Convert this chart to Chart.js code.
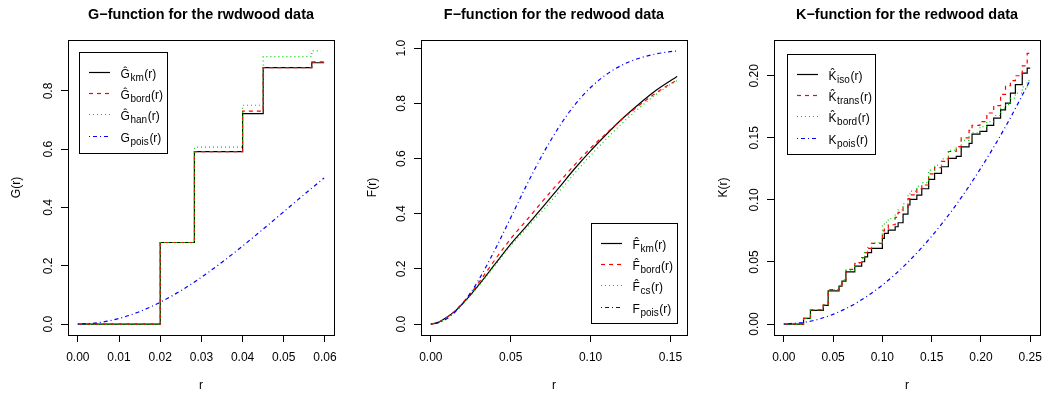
<!DOCTYPE html>
<html><head><meta charset="utf-8">
<script src="https://cdn.jsdelivr.net/npm/chart.js@4.4.0/dist/chart.umd.min.js"></script>
<style>
body{margin:0;background:#fff;width:1042px;height:394px;overflow:hidden;position:relative}
canvas{position:absolute;top:0}
</style></head><body>
<canvas id="c1" width="347" height="394" style="left:0px"></canvas>
<canvas id="c2" width="347" height="394" style="left:353px"></canvas>
<canvas id="c3" width="336" height="394" style="left:706px"></canvas>
<script>
// ---------- G-function data ----------
const rG      = [0, 0.0200, 0.0283, 0.0400, 0.0450, 0.0568, 0.0598];
const gKm     = [0, 0.280, 0.592, 0.722, 0.880, 0.897, 0.897];
const gBord   = [0, 0.280, 0.592, 0.731, 0.880, 0.900, 0.900];
const rGhan   = [0, 0.0200, 0.0283, 0.0400, 0.0450, 0.0568, 0.0590];
const gHan    = [0, 0.280, 0.607, 0.751, 0.918, 0.9375, 0.9375];
const rGpois  = [0, 0.005, 0.010, 0.015, 0.020, 0.025, 0.030, 0.035, 0.040, 0.045, 0.050, 0.055, 0.0598];
const gPois   = [0, 0.0049, 0.0193, 0.0429, 0.0750, 0.1146, 0.1608, 0.2123, 0.2678, 0.3260, 0.3856, 0.4453, 0.5017];
const gTicksX = [0, 0.01, 0.02, 0.03, 0.04, 0.05, 0.06];
const gLabelsX = ["0.00","0.01","0.02","0.03","0.04","0.05","0.06"];
const gTicksY = [0, 0.2, 0.4, 0.6, 0.8];
const gLabelsY = ["0.0","0.2","0.4","0.6","0.8"];

// ---------- F-function data ----------
const rF      = [0, 0.005, 0.010, 0.015, 0.020, 0.025, 0.030, 0.040, 0.050, 0.060, 0.070, 0.080, 0.090, 0.100, 0.110, 0.120, 0.130, 0.140, 0.150, 0.1542];
const fKm     = [0, 0.007, 0.025, 0.046, 0.075, 0.107, 0.142, 0.216, 0.290, 0.356, 0.424, 0.493, 0.563, 0.628, 0.688, 0.745, 0.796, 0.843, 0.882, 0.897];
const fBord   = [0, 0.007, 0.025, 0.047, 0.077, 0.112, 0.150, 0.232, 0.309, 0.377, 0.446, 0.512, 0.577, 0.638, 0.692, 0.744, 0.791, 0.834, 0.871, 0.885];
const fCs     = [0, 0.007, 0.024, 0.045, 0.073, 0.104, 0.139, 0.211, 0.284, 0.348, 0.412, 0.478, 0.547, 0.611, 0.672, 0.729, 0.781, 0.828, 0.868, 0.882];
const fPois   = [0, 0.0049, 0.0193, 0.0429, 0.0750, 0.1146, 0.1608, 0.2678, 0.3856, 0.5041, 0.6150, 0.7125, 0.7936, 0.8575, 0.9053, 0.9395, 0.9628, 0.9780, 0.9875, 0.9901];
const fTicksX = [0, 0.05, 0.10, 0.15];
const fLabelsX = ["0.00","0.05","0.10","0.15"];
const fTicksY = [0, 0.2, 0.4, 0.6, 0.8, 1.0];
const fLabelsY = ["0.0","0.2","0.4","0.6","0.8","1.0"];

// ---------- K-function data ----------
const rK      = [0, 0.020, 0.027, 0.040, 0.045, 0.056, 0.059, 0.063, 0.072, 0.079, 0.082, 0.085, 0.089, 0.100, 0.102, 0.106, 0.113, 0.116, 0.121, 0.126, 0.128, 0.135, 0.140, 0.147, 0.153, 0.160, 0.167, 0.175, 0.180, 0.188, 0.191, 0.199, 0.206, 0.213, 0.220, 0.225, 0.230, 0.235, 0.242, 0.247, 0.250];
const kIso    = [0, 0.0046, 0.0110, 0.0150, 0.0268, 0.0306, 0.0346, 0.0421, 0.0467, 0.0502, 0.0542, 0.0575, 0.0610, 0.0690, 0.0730, 0.0757, 0.0784, 0.0816, 0.0886, 0.0959, 0.1004, 0.1039, 0.1090, 0.1165, 0.1214, 0.1267, 0.1335, 0.1350, 0.1428, 0.1455, 0.1530, 0.1552, 0.1600, 0.1659, 0.1726, 0.1780, 0.1860, 0.1928, 0.2022, 0.2062, 0.2062];
const kTrans  = [0, 0.0046, 0.0115, 0.0155, 0.0278, 0.0315, 0.0355, 0.0440, 0.0495, 0.0535, 0.0575, 0.0610, 0.0650, 0.0750, 0.0770, 0.0800, 0.0860, 0.0900, 0.0940, 0.1010, 0.1040, 0.1090, 0.1120, 0.1210, 0.1260, 0.1310, 0.1390, 0.1430, 0.1500, 0.1560, 0.1600, 0.1630, 0.1700, 0.1760, 0.1850, 0.1920, 0.1960, 0.2000, 0.2080, 0.2180, 0.2200];
const kBord   = [0, 0.0046, 0.0115, 0.0155, 0.0275, 0.0312, 0.0352, 0.0435, 0.0490, 0.0530, 0.0575, 0.0615, 0.0655, 0.0800, 0.0820, 0.0850, 0.0890, 0.0920, 0.0970, 0.1040, 0.1070, 0.1110, 0.1140, 0.1240, 0.1280, 0.1330, 0.1400, 0.1420, 0.1480, 0.1520, 0.1540, 0.1590, 0.1630, 0.1680, 0.1740, 0.1770, 0.1820, 0.1860, 0.1910, 0.1960, 0.1960];
const rKpois  = [0, 0.025, 0.050, 0.075, 0.100, 0.125, 0.150, 0.175, 0.200, 0.225, 0.250];
const kPois   = [0, 0.00196, 0.00785, 0.01767, 0.0314, 0.0491, 0.0707, 0.0962, 0.1257, 0.1590, 0.1963];
const kTicksX = [0, 0.05, 0.10, 0.15, 0.20, 0.25];
const kLabelsX = ["0.00","0.05","0.10","0.15","0.20","0.25"];
const kTicksY = [0, 0.05, 0.10, 0.15, 0.20];
const kLabelsY = ["0.00","0.05","0.10","0.15","0.20"];

// ---------- styling ----------
const FONT = "'Liberation Sans', Arial, Helvetica, sans-serif";
const COL = { black: '#000000', red: '#FF0000', green: '#00CD00', blue: '#0000FF' };
const DASH = { solid: [], dashed: [4, 4], dotted: [1, 3], dotdash: [1, 3, 4, 3] };
const STYLES = [
  { color: COL.black, dash: DASH.solid },
  { color: COL.red, dash: DASH.dashed },
  { color: COL.green, dash: DASH.dotted },
  { color: COL.blue, dash: DASH.dotdash }
];
const LW = 1.2;

function pts(xs, ys) { return xs.map((x, i) => ({ x: x, y: ys[i] })); }
function ds(label, xs, ys, k, stepped) {
  return {
    label: label, data: pts(xs, ys), borderColor: STYLES[k].color, borderDash: STYLES[k].dash,
    borderWidth: LW, pointRadius: 0, fill: false, tension: 0, order: 4 - k,
    stepped: stepped ? 'before' : false,
    cubicInterpolationMode: stepped ? 'default' : 'monotone'
  };
}

function decor(spec) {
  return {
    id: 'rdecor',
    afterDraw(chart) {
      const ctx = chart.ctx, a = chart.chartArea;
      const xs = chart.scales.x, ys = chart.scales.y;
      ctx.save();
      ctx.strokeStyle = '#000'; ctx.lineWidth = 1; ctx.setLineDash([]);
      ctx.strokeRect(Math.round(a.left) + 0.5, Math.round(a.top) + 0.5,
                     Math.round(a.right - a.left), Math.round(a.bottom - a.top));
      ctx.fillStyle = '#000';
      ctx.font = '12px ' + FONT; ctx.textAlign = 'center'; ctx.textBaseline = 'alphabetic';
      spec.xTicks.forEach((v, i) => ctx.fillText(spec.xLabels[i], xs.getPixelForValue(v), a.bottom + 25.5));
      spec.yTicks.forEach((v, i) => {
        ctx.save();
        ctx.translate(a.left - 15.6, ys.getPixelForValue(v));
        ctx.rotate(-Math.PI / 2);
        ctx.fillText(spec.yLabels[i], 0, 0);
        ctx.restore();
      });
      ctx.fillText('r', (a.left + a.right) / 2, a.bottom + 53.5);
      ctx.save();
      ctx.translate(a.left + spec.yTitleDx, (a.top + a.bottom) / 2);
      ctx.rotate(-Math.PI / 2);
      ctx.fillText(spec.yTitle, 0, 0);
      ctx.restore();
      ctx.font = 'bold 14.4px ' + FONT;
      ctx.fillText(spec.title, (a.left + a.right) / 2, 18.5);
      // legend
      const L = spec.legend;
      let bx, by;
      if (L.corner === 'tl') { bx = a.left + L.dx; by = a.top + L.dy; }
      else { bx = a.right - L.dx - L.w; by = a.bottom - L.dy - L.h; }
      bx = Math.round(bx) + 0.5; by = Math.round(by) + 0.5;
      ctx.fillStyle = '#fff'; ctx.fillRect(bx, by, L.w, L.h);
      ctx.strokeStyle = '#000'; ctx.lineWidth = 1; ctx.strokeRect(bx, by, L.w, L.h);
      L.items.forEach((it, i) => {
        const yy = Math.round(by + 19.1 + i * 21.3) + 0.5;
        const st = STYLES[i];
        ctx.strokeStyle = st.color; ctx.lineWidth = LW; ctx.lineCap = 'butt';
        ctx.setLineDash(st.dash);
        ctx.beginPath(); ctx.moveTo(bx - 0.5 + 10, yy); ctx.lineTo(bx - 0.5 + 31, yy); ctx.stroke();
        ctx.setLineDash([]);
        ctx.fillStyle = '#000'; ctx.textAlign = 'left';
        let x = bx + 41; const base = yy + 5;
        ctx.font = '12px ' + FONT;
        const mw = ctx.measureText(it.main).width;
        ctx.fillText(it.main + (it.hat ? '\u0302' : ''), x, base);
        x += mw + 0.6;
        ctx.font = '10px ' + FONT;
        ctx.fillText(it.sub, x, base + 3);
        x += ctx.measureText(it.sub).width + 0.6;
        ctx.font = '12px ' + FONT;
        ctx.fillText('(r)', x, base);
      });
      ctx.restore();
    }
  };
}

function panel(id, canvasW, spec, datasets) {
  const axis = (ticks, isX) => ({
    type: 'linear',
    min: isX ? spec.xMin : spec.yMin,
    max: isX ? spec.xMax : spec.yMax,
    afterBuildTicks: s => { s.ticks = ticks.map(v => ({ value: v })); },
    afterFit: s => { if (isX) s.height = 59; else s.width = 68; },
    ticks: { display: false },
    grid: { display: true, drawOnChartArea: false, drawTicks: true, tickLength: 7, color: '#000', lineWidth: 1 },
    border: { display: false }
  });
  new Chart(document.getElementById(id), {
    type: 'line',
    data: { datasets: datasets },
    options: {
      responsive: false, animation: false, devicePixelRatio: 1,
      layout: { padding: { left: 0, right: canvasW - 334, top: 40, bottom: 0 } },
      scales: { x: axis(spec.xTicks, true), y: axis(spec.yTicks, false) },
      plugins: { legend: { display: false }, title: { display: false }, tooltip: { enabled: false } },
      events: []
    },
    plugins: [decor(spec)]
  });
}

panel('c1', 347, {
  title: 'G\u2212function for the rwdwood data', yTitle: 'G(r)', yTitleDx: -47.8,
  xMin: -0.00239, xMax: 0.06219, yMin: -0.0375, yMax: 0.975,
  xTicks: gTicksX, xLabels: gLabelsX, yTicks: gTicksY, yLabels: gLabelsY,
  legend: { corner: 'tl', dx: 11, dy: 11.7, w: 88, h: 101, items: [
    { main: 'G', hat: true, sub: 'km' }, { main: 'G', hat: true, sub: 'bord' },
    { main: 'G', hat: true, sub: 'han' }, { main: 'G', hat: false, sub: 'pois' } ] }
}, [
  ds('G_km', rG, gKm, 0, true),
  ds('G_bord', rG, gBord, 1, true),
  ds('G_han', rGhan, gHan, 2, true),
  ds('G_pois', rGpois, gPois, 3, false)
]);

panel('c2', 347, {
  title: 'F\u2212function for the redwood data', yTitle: 'F(r)', yTitleDx: -45.5,
  xMin: -0.00617, xMax: 0.16037, yMin: -0.0396, yMax: 1.0297,
  xTicks: fTicksX, xLabels: fLabelsX, yTicks: fTicksY, yLabels: fLabelsY,
  legend: { corner: 'br', dx: 10.3, dy: 11.7, w: 86, h: 100, items: [
    { main: 'F', hat: true, sub: 'km' }, { main: 'F', hat: true, sub: 'bord' },
    { main: 'F', hat: true, sub: 'cs' }, { main: 'F', hat: false, sub: 'pois' } ] }
}, [
  ds('F_km', rF, fKm, 0, false),
  ds('F_bord', rF, fBord, 1, false),
  ds('F_cs', rF, fCs, 2, false),
  ds('F_pois', rF, fPois, 3, false)
]);

panel('c3', 336, {
  title: 'K\u2212function for the redwood data', yTitle: 'K(r)', yTitleDx: -47.2,
  xMin: -0.01, xMax: 0.26, yMin: -0.0088, yMax: 0.2288,
  xTicks: kTicksX, xLabels: kLabelsX, yTicks: kTicksY, yLabels: kLabelsY,
  legend: { corner: 'tl', dx: 13, dy: 14.3, w: 88, h: 100, items: [
    { main: 'K', hat: true, sub: 'iso' }, { main: 'K', hat: true, sub: 'trans' },
    { main: 'K', hat: true, sub: 'bord' }, { main: 'K', hat: false, sub: 'pois' } ] }
}, [
  ds('K_iso', rK, kIso, 0, true),
  ds('K_trans', rK, kTrans, 1, true),
  ds('K_bord', rK, kBord, 2, true),
  ds('K_pois', rKpois, kPois, 3, false)
]);
</script>
</body></html>
